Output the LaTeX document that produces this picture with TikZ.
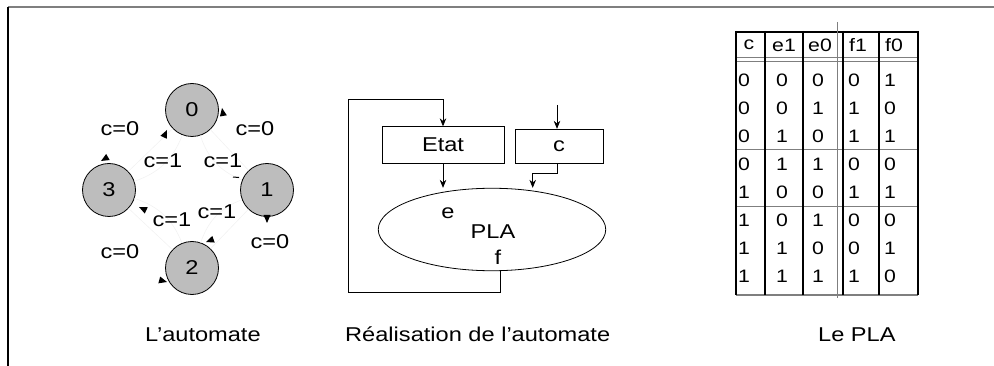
\documentclass[tikz,border=0pt]{standalone}
\usepackage{fontspec}
\setmainfont{Liberation Sans}[FakeStretch=1.18]
\usepackage{xcolor}
\definecolor{stategrey}{HTML}{BDBDBD}
\definecolor{edgegrey}{HTML}{F2F2F2}
\definecolor{rulegrey}{HTML}{7F7F7F}
\usetikzlibrary{arrows.meta,shapes.geometric}

% small filled tip sitting on a state circle: x, y, direction
\newcommand{\statetip}[3]{\fill[rotate around={#3:(#1,#2)}] (#1,#2) -- ++(-8,-3.5) -- ++(0,7) -- cycle;}

\begin{document}
\begin{tikzpicture}[x=1pt,y=-1pt,
  statenode/.style={circle,draw,line width=0.8pt,fill=stategrey,minimum size=53pt,inner sep=0pt,font=\fontsize{20}{24}\selectfont},
  lbl/.style={inner sep=0pt,font=\fontsize{20}{24}\selectfont},
  tbl/.style={inner sep=0pt,font=\fontsize{18}{21}\selectfont},
  regbox/.style={draw,line width=0.8pt,inner sep=0pt,font=\fontsize{20}{24}\selectfont},
  wire/.style={line width=0.8pt,-{Stealth[length=8pt,width=6.5pt]}},
  faint/.style={edgegrey,line width=0.6pt}]

\useasboundingbox (0,0) rectangle (994,366);

% frame
\draw[rulegrey,line width=2pt] (8,7) -- (994,7);
\draw[line width=1.4pt] (8,7) -- (8,366);

% l'automate
\node[statenode] (s0) at (192,110) {0};
\node[statenode] (s1) at (267,190) {1};
\node[statenode] (s2) at (192,268) {2};
\node[statenode] (s3) at (109,190) {3};

\draw[faint] (s0) -- (s1);
\draw[faint] (s1) -- (s2);
\draw[faint] (s2) -- (s3);
\draw[faint] (s3) -- (s0);
\draw[faint] (s0) to[bend right=25] (s1);
\draw[faint] (s1) to[bend right=25] (s2);
\draw[faint] (s2) to[bend right=25] (s3);
\draw[faint] (s3) to[bend right=25] (s0);

\statetip{222}{108}{100}
\statetip{167}{130}{65}
\statetip{101}{161}{210}
\statetip{139}{207}{155}
\draw[line width=1pt] (233,177) -- (239,177.5);
\statetip{267}{223}{-90}
\statetip{206}{242}{200}
\statetip{167}{282}{-15}

\node[lbl] (l30) at (120,129) {c=0};
\node[lbl] (l01) at (255,129) {c=0};
\node[lbl] (l03) at (163,161) {c=1};
\node[lbl] (l10) at (223,161) {c=1};
\node[lbl] (l32) at (172,220) {c=1};
\node[lbl] (l21) at (217,212) {c=1};
\node[lbl] (l12) at (270,242) {c=0};
\node[lbl] (l23) at (120,252) {c=0};

% realisation
\node[regbox,minimum width=122pt,minimum height=36.5pt] (etat) at (443,145) {Etat};
\node[regbox,minimum width=88pt,minimum height=34.5pt] (cin) at (559,146.5) {c};
\node[draw,ellipse,line width=0.8pt,minimum width=227.5pt,minimum height=82.5pt,inner sep=0pt] (pla) at (492,229.5) {};
\node[lbl] (plae) at (448,213) {e};
\node[lbl] (planame) at (493,232) {PLA};
\node[lbl] (plaf) at (498,257) {f};

\coordinate (fbl) at (348,292.7);
\coordinate (fbt) at (348,99);
\coordinate (cinp) at (557,105);
\coordinate (cjoin) at (532.7,173.3);
\draw[wire] (pla.-78) |- (fbl) -- (fbt) -| (etat.north);
\draw[wire] (cinp) -- (cinp |- cin.north);
\draw[wire] (etat.south) -- (etat.south |- pla.north);
\draw[wire] (cin.south -| cinp) |- (cjoin) -- (cjoin |- pla.north);

% le PLA
\draw[line width=2pt] (736,31.7) -- (918,31.7);
\draw[rulegrey,line width=1pt] (736,58) -- (918,58);
\draw[rulegrey,line width=1pt] (736,61.5) -- (918,61.5);
\draw[rulegrey,line width=1pt] (736,150) -- (918,150);
\draw[rulegrey,line width=1pt] (736,206.5) -- (918,206.5);
\draw[rulegrey,line width=1.5pt] (736,295) -- (918,295);
\foreach \x/\w in {736/1.2,765/1.2,803/1.6,843/1.6,879/1.2,918/1.2}
  \draw[line width=\w pt] (\x,31) -- (\x,295.5);
\draw[rulegrey,line width=0.5pt] (837,22) -- (837,298);

\foreach \t [count=\i] in {c,e1,e0,f1,f0}
  \node[tbl] (h\i) at ({\ifcase\i\or 749\or 784\or 820\or 858\or 894\fi},45) {\t};
\foreach \a/\b/\c/\d/\e [count=\r from 0] in
  {0/0/0/0/1,0/0/1/1/0,0/1/0/1/1,0/1/1/0/0,1/0/0/1/1,1/0/1/0/0,1/1/0/0/1,1/1/1/1/0} {
  \node[tbl] (r\r c) at (744,80+28.1*\r) {\a};
  \node[tbl] (r\r e1) at (782,80+28.1*\r) {\b};
  \node[tbl] (r\r e0) at (818,80+28.1*\r) {\c};
  \node[tbl] (r\r f1) at (854,80+28.1*\r) {\d};
  \node[tbl] (r\r f0) at (890,80+28.1*\r) {\e};
}

% legends
\node[lbl,anchor=base west] (capauto) at (145,341.7) {L’automate};
\node[lbl,anchor=base west] (capreal) at (345,341.7) {Réalisation de l’automate};
\node[lbl,anchor=base west] (cappla) at (818,341.7) {Le PLA};
\end{tikzpicture}
\end{document}
